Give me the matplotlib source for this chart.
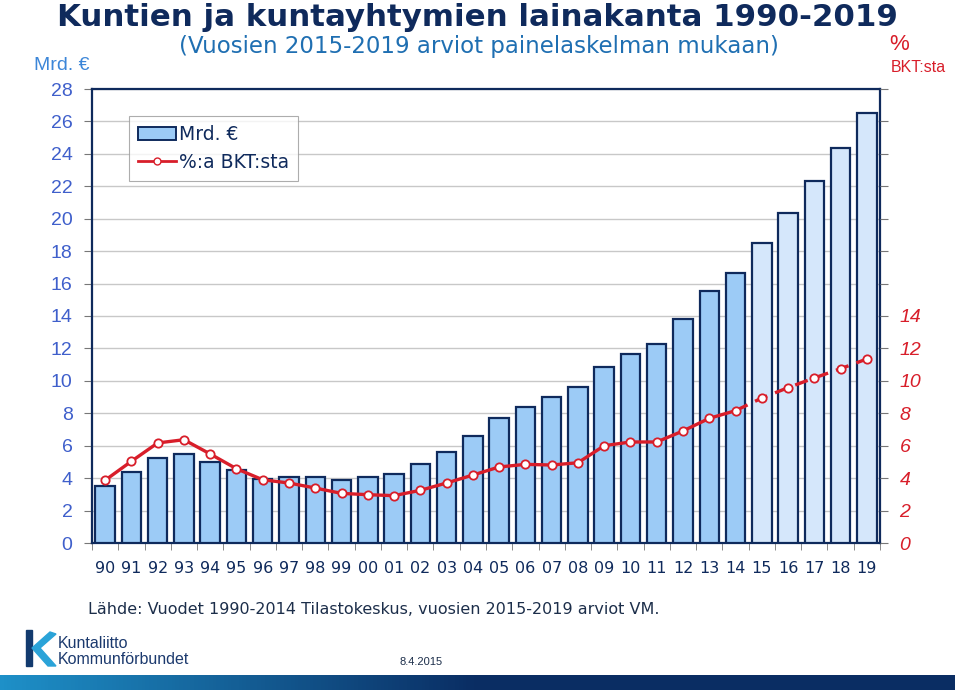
import numpy as np
import matplotlib.pyplot as plt
from matplotlib.patches import Patch, Rectangle, Polygon
from matplotlib.lines import Line2D

plt.rcParams['font.family'] = ['Liberation Sans', 'DejaVu Sans']

# data
years = ['90', '91', '92', '93', '94', '95', '96', '97', '98', '99',
         '00', '01', '02', '03', '04', '05', '06', '07', '08', '09',
         '10', '11', '12', '13', '14', '15', '16', '17', '18', '19']
loans = [3.53, 4.40, 5.22, 5.49, 5.00, 4.52, 3.97, 4.09, 4.07, 3.87,
         4.05, 4.24, 4.85, 5.61, 6.60, 7.71, 8.41, 9.01, 9.60, 10.88,
         11.66, 12.30, 13.80, 15.55, 16.64, 18.49, 20.36, 22.31, 24.35, 26.50]
gdp_share = [3.87, 5.04, 6.17, 6.37, 5.49, 4.58, 3.90, 3.70, 3.39, 3.06,
             2.98, 2.92, 3.25, 3.70, 4.19, 4.69, 4.85, 4.81, 4.95, 6.00,
             6.23, 6.23, 6.91, 7.69, 8.16, 8.94, 9.58, 10.18, 10.75, 11.35]
n_actual = 25  # 1990-2014 actual, 2015-2019 forecast

navy = '#0f2a5c'
red = '#d81e2a'
bar_fill = '#9ccbf6'
bar_fill_fc = '#d5e7fb'
wide = ['DejaVu Sans']
W, H = 960, 691

fig = plt.figure(figsize=(9.6, 6.91), dpi=100)
ax = fig.add_axes([92 / W, 1 - 543 / H, (880 - 92) / W, (543 - 89) / H])

x = np.arange(len(years))
colors = [bar_fill if i < n_actual else bar_fill_fc for i in range(len(years))]
ax.bar(x, loans, width=0.74, color=colors, edgecolor=navy, linewidth=1.6, zorder=3)

ax.plot(x[:n_actual], gdp_share[:n_actual], color=red, lw=2.4, zorder=4)
ax.plot(x[n_actual - 1:], gdp_share[n_actual - 1:], color=red, lw=2.4,
        dashes=(4, 2.5), zorder=4)
ax.plot(x, gdp_share, ls='none', marker='o', ms=6, mfc='white', mec=red,
        mew=1.3, zorder=5)

ax.set_xlim(-0.5, len(years) - 0.5)
ax.set_ylim(0, 28)
ax.set_yticks(np.arange(0, 29, 2))
ax.yaxis.grid(True, color='#c8c8c8', lw=1, zorder=0)
ax.set_axisbelow(True)
ax.tick_params(axis='y', direction='out', length=6, color='#777777',
               labelsize=14, labelcolor='#3f5fcb', pad=8)

ax.set_xticks(x)
ax.set_xticklabels(years, family=wide)
ax.set_xticks(np.arange(-0.5, len(years), 1), minor=True)
ax.tick_params(axis='x', which='major', length=0, labelsize=11.5,
               labelcolor=navy, pad=13)
ax.tick_params(axis='x', which='minor', direction='out', length=5, color='#777777')
for s in ax.spines.values():
    s.set_color(navy)
    s.set_linewidth(1.6)

ax2 = ax.twinx()
ax2.set_ylim(0, 28)
ax2.set_yticks(np.arange(0, 29, 2))
ax2.set_yticklabels([str(v) if v <= 14 else '' for v in range(0, 29, 2)],
                    style='italic')
ax2.tick_params(axis='y', direction='out', length=6, color='#777777',
                labelsize=14, labelcolor=red, pad=8)
for s in ax2.spines.values():
    s.set_visible(False)

handles = [Patch(facecolor=bar_fill, edgecolor=navy, linewidth=1.4),
           Line2D([], [], color=red, lw=2, marker='o', ms=5, mfc='white', mec=red)]
leg = ax.legend(handles, ['Mrd. €', '%:a BKT:sta'], loc='upper left',
                bbox_to_anchor=((129 - 92) / 788, (543 - 116) / 454),
                prop={'family': wide, 'size': 13.5}, frameon=True, fancybox=False,
                handlelength=2.0, handletextpad=0.15, borderpad=0.5,
                labelspacing=0.45, borderaxespad=0)
leg.get_frame().set_edgecolor('#999999')
leg.get_frame().set_linewidth(0.8)
for t in leg.get_texts():
    t.set_color(navy)
leg.set_zorder(10)

# titles and labels
fig.text(477 / W, 1 - 26 / H, 'Kuntien ja kuntayhtymien lainakanta 1990-2019',
         ha='center', va='baseline', fontsize=22.2, fontweight='bold', color=navy,
         family=wide)
fig.text(479 / W, 1 - 47 / H, '(Vuosien 2015-2019 arviot painelaskelman mukaan)',
         ha='center', va='center', fontsize=16.5, color='#1f6fb2', family=wide)
fig.text(62 / W, 1 - 66 / H, 'Mrd. €', ha='center', va='center',
         fontsize=14, color='#3c86d8')
fig.text(899 / W, 1 - 45 / H, '%', ha='center', va='center', fontsize=16, color=red)
fig.text(918 / W, 1 - 68 / H, 'BKT:sta', ha='center', va='center', fontsize=11.5, color=red)

fig.text(88 / W, 1 - 610 / H,
         'Lähde: Vuodet 1990-2014 Tilastokeskus, vuosien 2015-2019 arviot VM.',
         ha='left', va='center', fontsize=11.55, color='#1c2e4a', family=wide)
fig.text(421 / W, 1 - 662 / H, '8.4.2015', ha='center', va='center',
         fontsize=8, color='#1c2e4a')

# logo
lax = fig.add_axes([20 / W, 1 - 670 / H, 170 / W, 42 / H])
lax.set_xlim(0, 170)
lax.set_ylim(42, 0)
lax.axis('off')
lax.add_patch(Rectangle((6, 2), 6, 36, color='#123a6e'))
lax.add_patch(Polygon([[12, 20], [30, 4], [36, 6], [20, 20], [36, 38], [28, 38]],
                      closed=True, color='#2aa3d8'))
lax.text(38, 15, 'Kuntaliitto', fontsize=11.5, color='#1c3a6e', va='center')
lax.text(38, 31, 'Kommunförbundet', fontsize=11.5, color='#1c3a6e', va='center')

# bottom gradient band
bax = fig.add_axes([0, 1 - 690 / H, 955 / W, 15 / H])
grad = np.linspace(0, 1, 256)
grad = np.clip(grad * 2.0, 0, 1)
bax.imshow(grad[None, :], aspect='auto', extent=(0, 1, 0, 1),
           cmap=plt.matplotlib.colors.LinearSegmentedColormap.from_list(
               'band', ['#1e90c8', '#0a2d63']))
bax.axis('off')

fig.savefig('out.png', dpi=100)
